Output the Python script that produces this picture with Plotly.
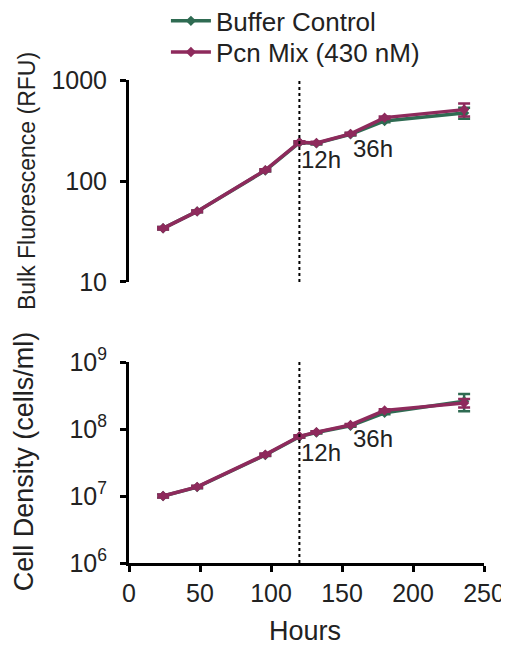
import plotly.graph_objects as go
from plotly.subplots import make_subplots

hours = [24, 48, 96, 120, 132, 156, 180, 236]

rfu_buffer = [34, 50, 127, 240, 236, 290, 393, 472]
rfu_pcn = [34, 50, 128, 242, 238, 293, 424, 509]
rfu_buffer_err = [1, 1, 3, 6, 6, 8, 12, 58]
rfu_pcn_err = [1, 1, 3, 6, 6, 8, 12, 75]

cells_buffer = [1.0e7, 1.36e7, 4.1e7, 7.7e7, 8.9e7, 1.12e8, 1.75e8, 2.6e8]
cells_pcn = [1.0e7, 1.37e7, 4.15e7, 7.8e7, 9.0e7, 1.15e8, 1.9e8, 2.45e8]
cells_buffer_err = [0.05e7, 0.05e7, 0.15e7, 0.3e7, 0.3e7, 0.4e7, 0.8e7, 0.75e8]
cells_pcn_err = [0.05e7, 0.05e7, 0.15e7, 0.3e7, 0.3e7, 0.4e7, 0.8e7, 0.35e8]

series_names = ["Buffer Control", "Pcn Mix (430 nM)"]
colors = ["#2f6b52", "#8e2a5c"]

rfu_ticks = [10, 100, 1000]
rfu_ticktext = ["10", "100", "1000"]
cell_ticks = [1e6, 1e7, 1e8, 1e9]
cell_ticktext = ["10<sup>6</sup>", "10<sup>7</sup>", "10<sup>8</sup>", "10<sup>9</sup>"]
x_ticks = [0, 50, 100, 150, 200, 250]

marker_hour = 120
labels = [("12h", 120, 2.217, 7.657), ("36h", 156, 2.317, 7.857)]

FONT = "Liberation Sans, Arial, sans-serif"
TXT = "#222222"

fig = make_subplots(rows=2, cols=1, shared_xaxes=False, vertical_spacing=0.0)

def add(row, y, err, name, color, show, legend):
    fig.add_trace(go.Scatter(
        x=hours, y=y, name=name, mode="lines+markers",
        line=dict(color=color, width=3.5),
        marker=dict(symbol="diamond", size=8, color=color),
        error_y=dict(type="data", array=err, color=color, thickness=2.5, width=6),
        showlegend=show, legend=legend,
    ), row=row, col=1)

add(1, rfu_buffer, rfu_buffer_err, series_names[0], colors[0], True, "legend")
add(1, rfu_pcn, rfu_pcn_err, series_names[1], colors[1], True, "legend2")
add(2, cells_buffer, cells_buffer_err, series_names[0], colors[0], False, "legend")
add(2, cells_pcn, cells_pcn_err, series_names[1], colors[1], False, "legend2")

# dashed reference lines
for xr, yr in [("x", "y domain"), ("x2", "y2 domain")]:
    fig.add_shape(type="line", xref=xr, yref=yr, x0=marker_hour, x1=marker_hour,
                  y0=0, y1=1, line=dict(color="black", width=2, dash="dot"))

for txt, xh, ytop, ybot in labels:
    fig.add_annotation(x=xh, y=ytop, xref="x", yref="y", text=txt, showarrow=False,
                       xanchor="left", yanchor="middle", font=dict(size=24, color=TXT, family=FONT))
    fig.add_annotation(x=xh, y=ybot, xref="x2", yref="y2", text=txt, showarrow=False,
                       xanchor="left", yanchor="middle", font=dict(size=24, color=TXT, family=FONT))

# axis titles
fig.add_annotation(text="Bulk Fluorescence (RFU)", xref="paper", yref="paper", x=-0.287, y=0.791,
                   textangle=-90, showarrow=False, xanchor="center", yanchor="middle",
                   font=dict(size=23, color=TXT, family=FONT))
fig.add_annotation(text="Cell Density (cells/ml)", xref="paper", yref="paper", x=-0.295, y=0.211,
                   textangle=-90, showarrow=False, xanchor="center", yanchor="middle",
                   font=dict(size=27, color=TXT, family=FONT))
fig.add_annotation(text="Hours", xref="paper", yref="paper", x=0.496, y=-0.14,
                   showarrow=False, xanchor="center", yanchor="middle",
                   font=dict(size=27, color=TXT, family=FONT))

axis_common = dict(showgrid=False, zeroline=False, showline=True, linecolor="black",
                   linewidth=3, ticks="outside", tickwidth=3, ticklen=6, tickcolor="black",
                   automargin=False, tickfont=dict(size=25, family=FONT, color=TXT))

legend_common = dict(x=0.104, xanchor="left", yanchor="middle", xref="paper", yref="container",
                     font=dict(size=26, family=FONT, color=TXT), bgcolor="rgba(0,0,0,0)",
                     itemwidth=40)

fig.update_layout(
    width=501, height=639,
    margin=dict(l=121, r=25, t=72, b=84, autoexpand=False),
    paper_bgcolor="white", plot_bgcolor="white",
    font=dict(family=FONT, color=TXT),
    legend=dict(y=0.9797, **legend_common),
    legend2=dict(y=0.931, **legend_common),
    xaxis=dict(domain=[0, 1], range=[0, 250], showgrid=False, zeroline=False, showline=False,
               showticklabels=False, ticks="", automargin=False),
    yaxis=dict(domain=[0.5818, 1.0], type="log", range=[1, 3], tickvals=rfu_ticks,
               ticktext=rfu_ticktext, ticklabelstandoff=8, **axis_common),
    xaxis2=dict(domain=[0, 1], range=[0, 250], tickvals=x_ticks, ticklabelstandoff=0,
                **axis_common),
    yaxis2=dict(domain=[0.0, 0.416], type="log", range=[6, 9], tickvals=cell_ticks,
                ticktext=cell_ticktext, ticklabelstandoff=8, **axis_common),
)

fig.write_html("out.html")
